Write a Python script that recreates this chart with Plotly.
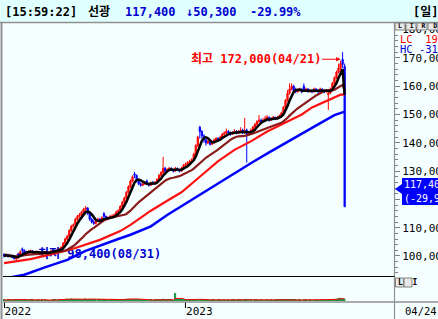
import plotly.graph_objects as go
import pandas as pd

W, H = 438, 319
def px(x): return x / W
def py(y): return 1 - y / H

# ---------------- data (prices in thousand KRW) ----------------
opens = [100.5,100.0,100.5,99.8,100.2,99.5,99.0,99.3,100.5,102.5,
         102.0,101.2,101.0,101.5,101.8,101.0,101.3,101.5,101.0,100.8,
         101.2,101.5,101.0,101.3,101.8,102.0,101.5,102.0,102.5,103.0,
         104.5,106.0,107.0,109.0,110.5,111.0,113.0,114.0,114.5,115.5,
         116.5,117.0,115.0,113.0,112.0,111.5,112.5,113.0,112.5,115.0,
         114.0,113.0,113.5,113.8,114.0,114.5,115.5,116.0,117.5,119.0,
         120.5,122.5,124.5,126.5,129.0,128.5,126.5,125.5,125.0,125.5,
         126.5,125.5,125.0,126.0,125.5,126.0,127.0,128.5,129.5,131.0,
         130.0,130.5,131.0,130.5,130.0,131.0,130.5,130.0,131.0,132.0,
         132.5,133.0,133.5,134.0,136.0,139.0,145.5,144.0,142.5,141.0,
         140.0,140.5,139.5,140.0,141.0,141.5,141.0,142.0,143.0,143.5,
         144.0,143.5,143.0,143.5,144.0,143.5,144.0,144.5,143.5,144.5,
         143.0,143.5,144.5,145.5,146.5,147.5,148.0,147.5,148.0,148.5,
         149.0,148.0,148.5,149.0,148.5,149.0,149.5,150.5,152.5,155.0,
         157.5,159.0,160.0,158.5,158.0,158.5,159.0,160.0,158.5,159.0,
         158.0,158.5,158.0,159.0,158.5,158.0,159.0,158.5,158.0,157.0,
         157.5,159.0,161.0,163.0,165.0,166.5,169.5,167.0]
highs = [101.0,101.0,100.8,100.8,100.5,100.0,99.8,100.8,102.0,103.0,
         102.3,101.8,102.0,102.2,102.0,101.8,101.8,101.8,101.2,101.5,
         101.8,101.6,101.6,102.0,102.5,102.2,102.3,102.8,103.5,105.0,
         106.5,107.5,109.5,111.0,111.5,113.5,114.5,115.2,116.0,117.0,
         117.7,117.2,115.5,113.5,112.8,113.0,113.5,113.5,114.0,115.5,
         114.3,114.0,114.5,114.8,115.0,116.0,116.5,118.0,119.5,121.0,
         123.0,125.0,127.0,128.5,129.7,128.8,127.0,126.0,126.0,126.5,
         127.0,125.8,126.3,126.5,126.5,127.5,129.0,130.0,135.0,131.5,
         131.0,131.5,131.3,130.8,131.5,131.2,130.8,131.5,132.5,133.0,
         133.5,134.0,134.5,136.5,139.5,142.5,146.0,144.5,143.0,141.5,
         141.0,141.0,140.5,141.5,142.0,142.0,142.5,143.5,144.0,145.0,
         144.5,144.0,144.0,144.8,144.5,144.5,145.5,145.0,148.8,145.0,
         144.0,145.0,146.0,147.0,148.0,149.8,148.5,148.8,149.5,149.8,
         149.3,149.0,149.5,149.2,149.5,150.0,151.0,153.0,155.5,158.7,
         161.0,161.0,160.5,159.5,159.2,159.5,159.2,161.0,159.5,159.3,
         159.0,158.8,159.5,159.3,158.8,159.5,159.2,158.8,159.0,159.0,
         159.5,161.5,163.5,165.5,168.0,169.0,172.0,168.0]
lows = [99.5,99.8,99.5,99.5,99.2,98.8,98.4,99.0,100.2,101.0,
        101.0,100.5,100.8,101.2,100.8,100.8,101.0,100.8,100.5,100.6,
        101.0,100.8,100.8,101.1,101.5,101.2,101.3,101.8,102.2,102.8,
        104.0,105.5,106.5,108.5,110.0,110.5,112.5,113.5,114.0,115.0,
        116.0,114.5,112.5,111.5,111.0,111.2,112.0,112.2,112.3,113.5,
        112.8,112.8,113.2,113.5,113.8,114.2,115.0,115.8,117.0,118.5,
        120.0,122.0,124.0,126.0,127.5,126.0,125.0,124.5,124.8,125.2,
        125.2,124.5,124.8,125.2,125.2,125.8,126.8,128.0,129.0,129.5,
        129.8,130.0,130.0,129.5,129.8,130.0,129.5,129.8,130.8,131.8,
        132.0,132.5,133.0,133.8,135.5,138.5,141.5,141.5,140.0,139.0,
        139.5,139.0,139.2,139.8,140.5,140.5,140.8,141.8,142.5,143.0,
        143.0,142.5,142.8,143.2,143.0,143.2,143.8,143.0,143.2,133.0,
        142.5,143.2,144.0,145.0,146.0,147.0,147.0,147.2,147.8,148.2,
        147.5,147.8,148.2,148.0,148.2,148.8,149.2,150.2,152.0,154.5,
        157.0,158.5,158.0,157.5,157.8,158.2,157.5,158.0,158.2,157.8,
        157.8,157.5,157.8,158.0,157.5,157.8,158.0,157.5,157.8,151.6,
        157.2,158.8,160.5,162.5,164.5,165.5,166.5,117.4]
closes = [100.0,100.5,99.8,100.2,99.5,99.0,99.3,100.5,101.5,102.0,
          101.2,101.0,101.5,101.8,101.0,101.3,101.5,101.0,100.8,101.2,
          101.5,101.0,101.3,101.8,102.0,101.5,102.0,102.5,103.0,104.5,
          106.0,107.0,109.0,110.5,111.0,113.0,114.0,114.5,115.5,116.5,
          117.0,115.0,113.0,112.0,111.5,112.5,113.0,112.5,113.5,114.0,
          113.0,113.5,114.0,114.0,114.5,115.5,116.0,117.5,119.0,120.5,
          122.5,124.5,126.5,128.0,128.5,126.5,125.5,125.0,125.5,126.0,
          125.5,125.0,126.0,125.5,126.0,127.0,128.5,129.5,131.0,130.0,
          130.5,131.0,130.5,130.0,131.0,130.5,130.0,131.0,132.0,132.5,
          133.0,133.5,134.0,136.0,139.0,142.0,144.0,142.5,141.0,140.0,
          140.5,139.5,140.0,141.0,141.5,141.0,142.0,143.0,143.5,144.0,
          143.5,143.0,143.5,144.0,143.5,144.0,144.5,143.5,144.0,143.0,
          143.5,144.5,145.5,146.5,147.5,148.0,147.5,148.0,148.5,149.0,
          148.0,148.5,149.0,148.5,149.0,149.5,150.5,152.5,155.0,157.5,
          159.0,160.0,158.5,158.0,158.5,159.0,158.0,158.5,159.0,158.0,
          158.5,158.0,159.0,158.5,158.0,159.0,158.5,158.0,158.5,157.5,
          159.0,161.0,163.0,165.0,166.5,168.0,167.7,117.4]
volumes = [14,12,15,13,12,18,22,25,20,16,
           14,13,12,15,13,12,11,13,12,14,13,12,11,12,14,13,12,15,18,
           22,26,28,24,30,25,22,20,
           18,20,24,30,22,
           26,18,16,14,13,15,14,16,13,12,14,
           13,15,16,18,20,22,24,26,28,30,24,
           26,22,18,16,14,13,15,14,13,12,14,16,18,20,
           28,20,16,14,13,12,
           100,
           18,16,14,13,14,16,15,18,20,22,24,
           26,20,16,14,13,12,14,13,12,13,14,12,13,12,13,
           12,13,14,12,13,14,12,20,18,14,13,12,13,14,12,13,12,12,13,12,13,12,13,14,15,16,
           18,22,24,20,18,
           14,13,12,13,12,14,13,12,13,12,12,13,12,12,13,12,14,18,16,
           18,22,28,35,40,30,20]

# longer moving averages (index, value in thousand KRW)
ma_red_idx = [0,13,28,35,47,57,62,72,80,87,96,105,113,121,129,139,146,151,159,165,167]
ma_red_val = [97.5,98.9,101.4,102.8,105.7,108.8,111.0,116.0,119.5,122.5,128.0,133.5,
              137.5,140.5,144.0,147.5,150.0,152.5,155.0,157.0,157.0]
ma_blue_idx = [0,10,20,31,40,48,56,62,72,80,90,98,106,114,122,130,138,146,154,162,167]
ma_blue_val = [92.0,93.4,96.0,98.6,101.8,104.0,106.0,107.5,110.5,114.5,119.0,122.5,
               126.1,129.5,133.2,136.6,140.0,143.2,146.5,149.8,151.0]

year_ticks = [0, 89]
year_labels = ["2022", "2023"]
last_date = "04/24"
low_date = "08/31"
high_date = "04/21"
header_time = "[15:59:22]"
name = "선광"
prev_close = 167.7

K = 1000
n = len(closes)
assert len(opens) == n and len(highs) == n and len(lows) == n and len(volumes) == n
xs = list(range(n))
O = [v * K for v in opens]; Hh = [v * K for v in highs]
L = [v * K for v in lows]; C = [v * K for v in closes]

cs = pd.Series(C)
ma5 = cs.rolling(5, min_periods=1).mean()
ma20 = cs.rolling(20, min_periods=1).mean()
vs = pd.Series(volumes)
vma = vs.rolling(5, min_periods=1).mean()

lo_i = L.index(min(L)); hi_i = Hh.index(max(Hh))
last = C[-1]; chg = last - prev_close * K; pct = chg / (prev_close * K) * 100

MONO = "DejaVu Sans Mono, Noto Sans CJK KR"
BLUE = "#0000D0"; RED = "#FF0000"

fig = go.Figure()
fig.add_trace(go.Scatter(x=[lo_i], y=[min(L)], mode="text",
                         text=[f"←  최저 {min(L):,.0f}({low_date})"], textposition="top right",
                         textfont=dict(family=MONO, size=12, color=BLUE, weight="bold"), cliponaxis=False,
                         hoverinfo="skip", showlegend=False))
fig.add_trace(go.Candlestick(x=xs, open=O, high=Hh, low=L, close=C,
                             increasing=dict(line=dict(color=RED, width=1), fillcolor=RED),
                             decreasing=dict(line=dict(color="#0000FF", width=1), fillcolor="#0000FF"),
                             whiskerwidth=0, showlegend=False))
fig.add_trace(go.Scatter(x=ma_blue_idx, y=[v * K for v in ma_blue_val], mode="lines",
                         line=dict(color="#0000FF", width=2.5), showlegend=False))
fig.add_trace(go.Scatter(x=ma_red_idx, y=[v * K for v in ma_red_val], mode="lines",
                         line=dict(color="#FF1010", width=2.2), showlegend=False))
fig.add_trace(go.Scatter(x=xs, y=ma20, mode="lines",
                         line=dict(color="#8B1A1A", width=2.2), showlegend=False))
fig.add_trace(go.Scatter(x=xs, y=ma5, mode="lines",
                         line=dict(color="#000000", width=2.5), showlegend=False))
fig.add_trace(go.Bar(x=xs, y=volumes, xaxis="x2", yaxis="y2", marker=dict(color="#1E9A50", line=dict(width=0)),
                     showlegend=False))
fig.add_trace(go.Scatter(x=xs, y=vma, xaxis="x2", yaxis="y2", mode="lines",
                         line=dict(color=RED, width=1), showlegend=False))

xr = [-0.5, 191.2]
BG = "#F5FFFF"
fig.update_layout(
    width=W, height=H, margin=dict(l=0, r=0, t=0, b=0, autoexpand=False),
    paper_bgcolor=BG, plot_bgcolor=BG, showlegend=False, bargap=0.2, boxgap=0.15,
    xaxis=dict(domain=[px(3), px(394)], range=xr, anchor="y", showticklabels=False, automargin=False,
               showgrid=False, zeroline=False, rangeslider=dict(visible=False), ticks=""),
    yaxis=dict(domain=[py(276), py(24)], range=[92930, 181980], anchor="x", side="right", automargin=False,
               tickvals=list(range(100000, 180001, 10000)), tickformat=",d",
               ticks="outside", ticklen=5, tickcolor="#808080", showgrid=False, zeroline=False,
               tickfont=dict(family=MONO, size=11, color="#000000"),
               minor=dict(dtick=2000, tick0=0, ticks="outside", ticklen=3, tickcolor="#808080", showgrid=False)),
    xaxis2=dict(domain=[px(3), px(394)], range=xr, anchor="y2", showgrid=False, zeroline=False, automargin=False,
                tickvals=year_ticks, ticktext=year_labels, ticks="outside", ticklen=6,
                tickcolor="#000000", ticklabelposition="outside right",
                tickfont=dict(family=MONO, size=11, color="#000000")),
    yaxis2=dict(domain=[py(301), py(277)], range=[0, 300], anchor="x2", visible=False, automargin=False),
)

shapes = [
    dict(type="rect", xref="paper", yref="paper", x0=0, x1=1, y0=py(22), y1=1,
         fillcolor="#E0FFFF", line=dict(width=0), layer="below"),
    dict(type="line", xref="paper", yref="paper", x0=0, x1=1, y0=py(22.5), y1=py(22.5),
         line=dict(color="#909090", width=1.5)),
    dict(type="line", xref="paper", yref="paper", x0=px(1.5), x1=px(1.5), y0=0, y1=py(22),
         line=dict(color="#909090", width=2)),
    dict(type="line", xref="paper", yref="paper", x0=px(394.5), x1=px(394.5), y0=0, y1=py(22),
         line=dict(color="#909090", width=1.2)),
    dict(type="line", xref="paper", yref="paper", x0=px(3), x1=px(394.5), y0=py(276.5), y1=py(276.5),
         line=dict(color="#000000", width=1.2)),
    dict(type="line", xref="paper", yref="paper", x0=px(3), x1=1, y0=py(302), y1=py(302),
         line=dict(color="#909090", width=1.5)),
    # price tag
    dict(type="path", xref="paper", yref="paper",
         path=f"M {px(395)} {py(189)} L {px(402)} {py(184)} L {px(402)} {py(194)} Z",
         fillcolor="#0000FF", line=dict(width=0)),
    dict(type="rect", xref="paper", yref="paper", x0=px(402), x1=1, y0=py(205), y1=py(178),
         fillcolor="#0000FF", line=dict(width=0)),
    # small buttons
    dict(type="rect", xref="paper", yref="paper", x0=px(395.5), x1=px(403.5), y0=py(287), y1=py(278),
         fillcolor="#E8E8E8", line=dict(color="#808080", width=1)),
    dict(type="rect", xref="paper", yref="paper", x0=px(404), x1=px(412), y0=py(287), y1=py(278),
         fillcolor="#E8E8E8", line=dict(color="#808080", width=1)),
]
for x0 in [395, 406, 417, 428]:
    shapes.append(dict(type="rect", xref="paper", yref="paper", x0=px(x0), x1=px(x0 + 10),
                       y0=py(30), y1=py(23), fillcolor="#E8E8E8", line=dict(color="#808080", width=1)))
fig.update_layout(shapes=shapes)

def ann(x, y, text, color="#000000", size=12, bold=False, anchor="left"):
    fig.add_annotation(xref="paper", yref="paper", x=px(x), y=py(y), text=text, showarrow=False,
                       xanchor=anchor, yanchor="middle", borderpad=0,
                       font=dict(family=MONO, size=size, color=color, weight="bold" if bold else "normal"))

ann(4, 11.5, header_time, bold=True, size=12)
ann(87, 11.5, name, bold=True, size=12)
ann(124, 11.5, f"{last:,.0f}", color=BLUE, bold=True, size=12)
ann(185, 11.5, f"↓{abs(chg):,.0f}", color=BLUE, bold=True, size=12)
ann(249, 11.5, f"{pct:.2f}%", color=BLUE, bold=True, size=12)
ann(412, 11.5, "[일]", bold=True, size=12)
ann(399, 38.5, "LC  19", color=RED, size=10.5)
ann(399, 49, "HC -31", color=BLUE, size=10.5)
ann(402.5, 184.5, f"{last:,.0f}", color="#FFFFFF", size=10)
ann(402.5, 198.5, f"({pct:.2f}%)".replace(".", ","), color="#FFFFFF", size=10)
ann(404, 311, last_date, size=10.5)
ann(396.5, 282.5, "L  I", size=8, bold=True)
ann(397, 26, "L  I  R  D", size=6.5, bold=True)

fig.add_annotation(x=hi_i, y=max(Hh), xref="x", yref="y", text=f"최고 {max(Hh):,.0f}({high_date})",
                   showarrow=True, ax=-87, ay=0, yshift=-7, arrowhead=2, arrowsize=0.9, arrowwidth=1,
                   arrowcolor=RED, standoff=2,
                   font=dict(family=MONO, size=12, color=RED, weight="bold"))

fig.write_html("out.html")
